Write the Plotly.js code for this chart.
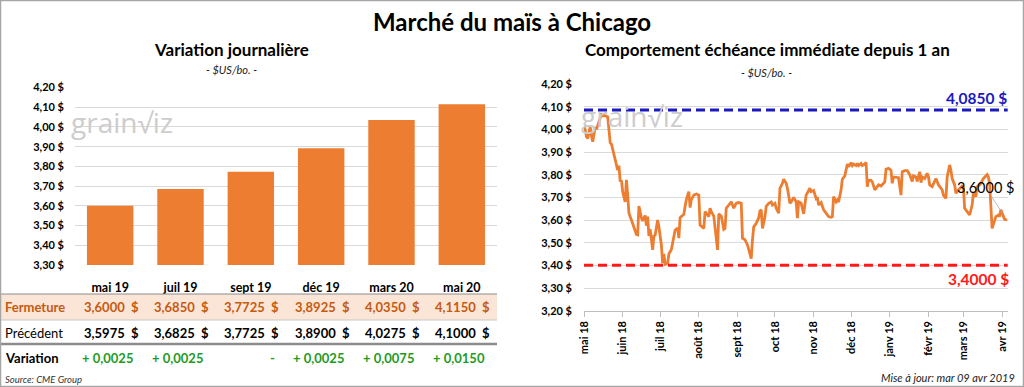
<!DOCTYPE html>
<html>
<head>
<meta charset="utf-8">
<script src="https://cdn.plot.ly/plotly-3.0.1.min.js"></script>
<style>
html,body{margin:0;padding:0;background:#fff;}
#chart{width:1024px;height:387px;}
</style>
</head>
<body>
<div id="chart"></div>
<script>
// ---------- DATA ----------
const contracts = ['mai 19','juil 19','sept 19','déc 19','mars 20','mai 20'];
const fermeture = [3.6000, 3.6850, 3.7725, 3.8925, 4.0350, 4.1150];
const precedent = [3.5975, 3.6825, 3.7725, 3.8900, 4.0275, 4.1000];
const variation = [0.0025, 0.0025, 0, 0.0025, 0.0075, 0.0150];

const histDates = [
'2018-05-01','2018-05-03','2018-05-04','2018-05-06','2018-05-07','2018-05-08','2018-05-10','2018-05-11','2018-05-13','2018-05-15',
'2018-05-16','2018-05-18','2018-05-20','2018-05-21','2018-05-22','2018-05-23','2018-05-25','2018-05-27','2018-05-28','2018-05-29',
'2018-05-30','2018-05-31','2018-06-01','2018-06-03','2018-06-04','2018-06-05','2018-06-06','2018-06-08','2018-06-10','2018-06-12',
'2018-06-13','2018-06-14','2018-06-16','2018-06-17','2018-06-19','2018-06-20','2018-06-21','2018-06-22','2018-06-23','2018-06-25',
'2018-06-26','2018-06-27','2018-06-29','2018-06-30','2018-07-02','2018-07-03','2018-07-04','2018-07-05','2018-07-07','2018-07-08',
'2018-07-10','2018-07-12','2018-07-13','2018-07-15','2018-07-16','2018-07-17','2018-07-20','2018-07-21','2018-07-22','2018-07-24',
'2018-07-25','2018-07-26','2018-07-28','2018-07-30','2018-08-01','2018-08-02','2018-08-05','2018-08-06','2018-08-09','2018-08-10',
'2018-08-11','2018-08-13','2018-08-14','2018-08-16','2018-08-17','2018-08-19','2018-08-21','2018-08-22','2018-08-23','2018-08-26',
'2018-08-27','2018-08-29','2018-08-31','2018-09-02','2018-09-04','2018-09-05','2018-09-07','2018-09-09','2018-09-11','2018-09-12',
'2018-09-13','2018-09-14','2018-09-16','2018-09-18','2018-09-19','2018-09-20','2018-09-21','2018-09-23','2018-09-24','2018-09-26',
'2018-09-28','2018-09-29','2018-10-01','2018-10-02','2018-10-04','2018-10-05','2018-10-07','2018-10-08','2018-10-10','2018-10-11',
'2018-10-13','2018-10-14','2018-10-16','2018-10-18','2018-10-19','2018-10-20','2018-10-22','2018-10-23','2018-10-24','2018-10-26',
'2018-10-29','2018-10-30','2018-11-01','2018-11-03','2018-11-04','2018-11-05','2018-11-07','2018-11-09','2018-11-11','2018-11-13',
'2018-11-15','2018-11-16','2018-11-17','2018-11-19','2018-11-20','2018-11-21','2018-11-23','2018-11-24','2018-11-26','2018-11-27',
'2018-11-28','2018-11-29','2018-12-01','2018-12-02','2018-12-03','2018-12-05','2018-12-06','2018-12-07','2018-12-09','2018-12-10',
'2018-12-12','2018-12-13','2018-12-14','2018-12-15','2018-12-17','2018-12-18','2018-12-20','2018-12-22','2018-12-23','2018-12-25',
'2018-12-26','2018-12-28','2018-12-29','2018-12-31','2019-01-02','2019-01-03','2019-01-04','2019-01-06','2019-01-08','2019-01-10',
'2019-01-11','2019-01-13','2019-01-15','2019-01-17','2019-01-19','2019-01-20','2019-01-22','2019-01-23','2019-01-25','2019-01-26',
'2019-01-27','2019-01-29','2019-01-31','2019-02-01','2019-02-02','2019-02-04','2019-02-06','2019-02-07','2019-02-09','2019-02-10',
'2019-02-12','2019-02-13','2019-02-15','2019-02-16','2019-02-18','2019-02-19','2019-02-20','2019-02-22','2019-02-23','2019-02-25',
'2019-02-26','2019-02-28','2019-03-01','2019-03-02','2019-03-04','2019-03-06','2019-03-08','2019-03-09','2019-03-11','2019-03-12',
'2019-03-14','2019-03-15','2019-03-17','2019-03-18','2019-03-20','2019-03-21','2019-03-22','2019-03-24','2019-03-26','2019-03-27',
'2019-03-29','2019-03-30','2019-03-31','2019-04-02','2019-04-03','2019-04-05'
];
const histPrices = [
4.022,3.968,3.960,4.012,3.970,3.945,4.010,4.000,4.034,4.070,
4.060,4.060,4.055,4.005,3.940,3.935,3.887,3.835,3.820,3.840,
3.770,3.775,3.725,3.680,3.777,3.710,3.630,3.600,3.563,3.537,
3.535,3.662,3.610,3.596,3.620,3.575,3.615,3.530,3.560,3.468,
3.530,3.533,3.600,3.570,3.490,3.410,3.450,3.405,3.410,3.450,
3.470,3.540,3.555,3.565,3.520,3.610,3.625,3.660,3.690,3.725,
3.655,3.690,3.710,3.715,3.710,3.578,3.563,3.637,3.615,3.652,
3.637,3.617,3.555,3.468,3.627,3.617,3.559,3.563,3.652,3.674,
3.680,3.652,3.674,3.677,3.674,3.520,3.513,3.490,3.440,3.430,
3.512,3.570,3.585,3.610,3.640,3.645,3.563,3.615,3.660,3.674,
3.680,3.666,3.674,3.652,3.630,3.740,3.762,3.780,3.762,3.740,
3.674,3.680,3.700,3.680,3.608,3.680,3.674,3.645,3.627,3.710,
3.740,3.725,3.730,3.695,3.700,3.666,3.677,3.645,3.630,3.615,
3.612,3.615,3.703,3.680,3.688,3.680,3.733,3.780,3.795,3.820,
3.847,3.835,3.853,3.840,3.847,3.840,3.850,3.840,3.850,3.840,
3.847,3.855,3.747,3.775,3.775,3.768,3.733,3.747,3.755,3.750,
3.755,3.768,3.824,3.828,3.820,3.762,3.790,3.787,3.787,3.710,
3.813,3.818,3.818,3.800,3.770,3.795,3.790,3.770,3.813,3.765,
3.790,3.783,3.806,3.790,3.755,3.747,3.770,3.783,3.755,3.747,
3.733,3.710,3.695,3.790,3.843,3.820,3.783,3.755,3.718,3.733,
3.740,3.750,3.747,3.652,3.637,3.622,3.666,3.718,3.703,3.747,
3.755,3.762,3.783,3.790,3.800,3.790,3.762,3.563,3.600,3.615,
3.622,3.615,3.645,3.622,3.603,3.600
];
const monthTicks = ['2018-05-01','2018-06-01','2018-07-01','2018-08-01','2018-09-01','2018-10-01',
                    '2018-11-01','2018-12-01','2019-01-01','2019-02-01','2019-03-01','2019-04-01'];
const monthLabels = ['mai 18','juin 18','juil 18','août 18','sept 18','oct 18',
                     'nov 18','déc 18','janv 19','févr 19','mars 19','avr 19'];
const maxPrice = 4.0850;
const minPrice = 3.4000;
const lastPrice = histPrices[histPrices.length - 1];

// ---------- HELPERS ----------
const W = 1024, H = 387;
const px = x => x / W;
const py = y => 1 - y / H;
const FONT = 'Lato, "Open Sans", sans-serif';
const fmt4 = v => v.toFixed(4).replace('.', ',');
const priceTxt = v => fmt4(v) + '\u00a0\u00a0$';
const varTxt = v => v === 0 ? '-' : (v > 0 ? '+ ' : '- ') + fmt4(Math.abs(v));

const ORANGE = '#ED7D31';
const GRID = '#D9D9D9';

// ---------- TRACES ----------
const traces = [
  {
    type: 'bar', x: contracts, y: fermeture, xaxis: 'x', yaxis: 'y',
    marker: {color: ORANGE}, hoverinfo: 'skip'
  },
  {
    type: 'scatter', mode: 'lines', x: histDates, y: histPrices, xaxis: 'x2', yaxis: 'y2',
    line: {color: ORANGE, width: 2.8}, hoverinfo: 'skip'
  }
];

// ---------- ANNOTATIONS ----------
const ann = [];
function txt(x, y, text, opts) {
  ann.push(Object.assign({xref: 'paper', yref: 'paper', x: px(x), y: py(y), text: text,
    showarrow: false, xanchor: 'center', yanchor: 'middle',
    font: {family: FONT, size: 12, color: '#000'}}, opts || {}));
}
// titles
txt(512, 22, 'Marché du maïs à Chicago', {font: {family: FONT, size: 24, color: '#000', weight: 'bold'}});
txt(231, 50, 'Variation journalière', {font: {family: FONT, size: 17, color: '#000', weight: 'bold'}});
txt(231, 70, '- $US/bo. -', {font: {family: FONT, size: 11, color: '#222', style: 'italic'}});
txt(767, 50, 'Comportement échéance immédiate depuis 1 an', {font: {family: FONT, size: 17, color: '#000', weight: 'bold'}});
txt(766, 72, '- $US/bo. -', {font: {family: FONT, size: 11, color: '#222', style: 'italic'}});
// watermarks
txt(122, 122, 'grain\u221Aiz', {font: {family: '"Open Sans", sans-serif', size: 28, color: '#CDCDCD'}});
txt(632, 116, 'grain\u221Aiz', {font: {family: '"Open Sans", sans-serif', size: 28, color: '#CDCDCD'}});
// table row labels
txt(3, 307, 'Fermeture', {xanchor: 'left', font: {family: FONT, size: 13, color: '#C55A11', weight: 'bold'}});
txt(3, 333, 'Précédent', {xanchor: 'left', font: {family: FONT, size: 13, color: '#000'}});
txt(3, 358, 'Variation', {xanchor: 'left', font: {family: FONT, size: 13, color: '#000', weight: 'bold'}});
txt(3, 379, 'Source: CME Group', {xanchor: 'left', font: {family: FONT, size: 9.5, color: '#333', style: 'italic'}});
txt(1017, 377, 'Mise à jour: mar 09 avr 2019', {xanchor: 'right', font: {family: FONT, size: 11, color: '#222', style: 'italic'}});
// table values, one column per contract
contracts.forEach((c, i) => {
  ann.push({xref: 'x', yref: 'paper', x: c, y: py(307), text: priceTxt(fermeture[i]), showarrow: false,
    xanchor: 'center', yanchor: 'middle', xshift: 1,
    font: {family: FONT, size: 13, color: '#C55A11', weight: 'bold'}});
  ann.push({xref: 'x', yref: 'paper', x: c, y: py(333), text: priceTxt(precedent[i]), showarrow: false,
    xanchor: 'center', yanchor: 'middle', xshift: 1,
    font: {family: FONT, size: 13, color: '#000', weight: 'bold'}});
  const v = variation[i];
  ann.push({xref: 'x', yref: 'paper', x: c, y: py(358), text: varTxt(v), showarrow: false,
    xanchor: 'center', yanchor: 'middle', xshift: v === 0 ? 22 : -3,
    font: {family: FONT, size: 13, color: '#1E9B1E', weight: 'bold'}});
});
// max / min labels
ann.push({xref: 'x2 domain', yref: 'y2', x: 1, y: maxPrice, text: fmt4(maxPrice) + ' $', showarrow: false,
  xanchor: 'right', yanchor: 'bottom', yshift: 1, xshift: 1,
  font: {family: FONT, size: 15.5, color: '#1A1AC0', weight: 'bold'}});
ann.push({xref: 'x2 domain', yref: 'y2', x: 1, y: minPrice, text: fmt4(minPrice) + ' $', showarrow: false,
  xanchor: 'right', yanchor: 'top', yshift: -3, xshift: 3,
  font: {family: FONT, size: 15.5, color: '#FF1A1A', weight: 'bold'}});
// last value data label
ann.push({xref: 'x2', yref: 'y2', x: histDates[histDates.length - 1], y: lastPrice, text: fmt4(lastPrice) + ' $',
  showarrow: true, arrowhead: 0, arrowwidth: 0.8, arrowcolor: '#A6A6A6', ax: -22, ay: -33, standoff: 8,
  font: {family: FONT, size: 14.5, color: '#000'}});

// ---------- SHAPES ----------
const shapes = [
  // table background and rules
  {type: 'rect', xref: 'paper', yref: 'paper', x0: 0, x1: px(497), y0: py(320), y1: py(294),
    fillcolor: '#FBE5D6', line: {width: 0}, layer: 'below'},
  {type: 'line', xref: 'paper', yref: 'paper', x0: 0, x1: px(497), y0: py(294), y1: py(294),
    line: {color: '#8C8C8C', width: 1}},
  {type: 'line', xref: 'paper', yref: 'paper', x0: 0, x1: px(497), y0: py(320), y1: py(320),
    line: {color: '#C8C8C8', width: 1}},
  {type: 'line', xref: 'paper', yref: 'paper', x0: 0, x1: px(497), y0: py(344), y1: py(344),
    line: {color: '#8C8C8C', width: 2.5}},
  // reference lines
  {type: 'line', xref: 'x2 domain', yref: 'y2', x0: 0, x1: 1, y0: maxPrice, y1: maxPrice,
    line: {color: '#1A1AC0', width: 3, dash: '9px,5px'}},
  {type: 'line', xref: 'x2 domain', yref: 'y2', x0: 0, x1: 1, y0: minPrice, y1: minPrice,
    line: {color: '#FF1A1A', width: 3, dash: '9px,5px'}},
  // outer frame
  {type: 'rect', xref: 'paper', yref: 'paper', x0: px(0.5), x1: px(1023.5), y0: py(386.5), y1: py(0.5),
    line: {color: '#A6A6A6', width: 1.5}}
];

// ---------- LAYOUT ----------
const tickFont = {family: FONT, size: 11, color: '#000', weight: 'bold'};
const layout = {
  width: W, height: H,
  margin: {l: 0, r: 0, t: 0, b: 0},
  paper_bgcolor: '#fff', plot_bgcolor: 'rgba(0,0,0,0)',
  showlegend: false, hovermode: false,
  separators: ', ',
  bargap: 0.34,
  xaxis: {
    domain: [px(75), px(497)], anchor: 'y', type: 'category',
    showgrid: false, zeroline: false, showline: false, ticks: '',
    tickfont: {family: FONT, size: 12.5, color: '#000', weight: 'bold'},
    ticklabelstandoff: 13, fixedrange: true
  },
  yaxis: {
    domain: [py(265), py(87.5)], anchor: 'x', range: [3.3, 4.2], dtick: 0.1, tick0: 3.3,
    tickformat: '.2f', ticksuffix: ' $', tickfont: tickFont,
    showgrid: true, gridcolor: GRID, gridwidth: 1, zeroline: false, showline: false, ticks: '',
    ticklabelstandoff: 10, fixedrange: true
  },
  xaxis2: {
    domain: [px(584), px(1007.7)], anchor: 'y2', type: 'date',
    range: ['2018-05-01', '2019-04-05 12:00'],
    tickmode: 'array', tickvals: monthTicks, ticktext: monthLabels, tickangle: -90,
    tickfont: tickFont, showgrid: false, zeroline: false,
    showline: true, linecolor: '#BFBFBF', linewidth: 1,
    ticks: 'outside', ticklen: 5, tickcolor: '#BFBFBF', fixedrange: true
  },
  yaxis2: {
    domain: [py(310.7), py(84)], anchor: 'x2', range: [3.2, 4.2], dtick: 0.1, tick0: 3.2,
    tickformat: '.2f', ticksuffix: ' $', tickfont: tickFont,
    showgrid: true, gridcolor: GRID, gridwidth: 1, zeroline: false, showline: false, ticks: '',
    ticklabelstandoff: 11, fixedrange: true
  },
  annotations: ann,
  shapes: shapes
};

Plotly.newPlot('chart', traces, layout, {displayModeBar: false, staticPlot: true});
</script>
</body>
</html>
